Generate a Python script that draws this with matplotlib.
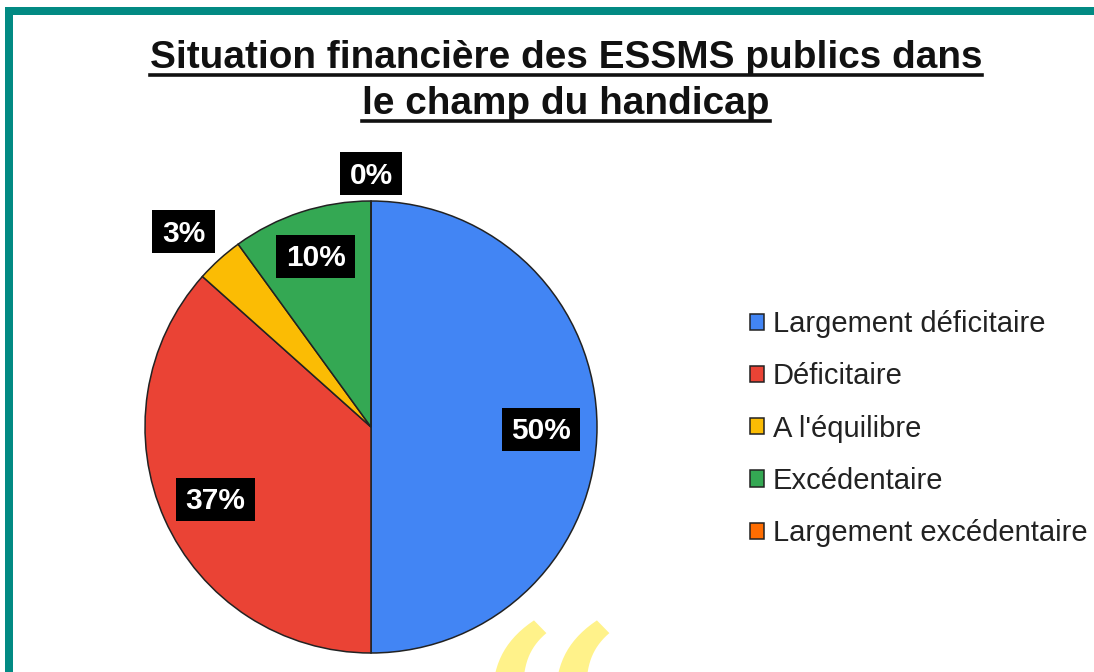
# Pie chart of the financial situation of public ESSMS

import matplotlib
matplotlib.use('Agg')
import matplotlib.pyplot as plt
from matplotlib.lines import Line2D
from matplotlib.patches import Rectangle

categories = ['Largement déficitaire', 'Déficitaire', "A l'équilibre", 'Excédentaire', 'Largement excédentaire']
values = [50, 36.6, 3.4, 10, 0]
colors = ['#4285F4', '#EA4335', '#FBBC04', '#34A853', '#FF6D01']
title_lines = ['Situation financière des ESSMS publics dans', 'le champ du handicap']

W, H = 1094, 672
TEAL = '#028A83'

plt.rcParams['font.family'] = ['Liberation Sans', 'DejaVu Sans']

def px(x, y):
    # pixel position from the top left -> figure fraction
    return x / W, 1 - y / H

fig = plt.figure(figsize=(W / 100, H / 100), dpi=100, facecolor='white')

# Teal frame, open at the bottom and on the right
fig.add_artist(Rectangle(px(5, 672), 8 / W, 665 / H, transform=fig.transFigure, color=TEAL, lw=0))
fig.add_artist(Rectangle(px(5, 15), 1089 / W, 8 / H, transform=fig.transFigure, color=TEAL, lw=0))

# Pie
cx, cy, radius = 371, 427, 226
ax = fig.add_axes([(cx - radius) / W, 1 - (cy + radius) / H, 2 * radius / W, 2 * radius / H])
wedges, _ = ax.pie(values, colors=colors, startangle=90, counterclock=False, radius=1,
                   wedgeprops={'edgecolor': '#222222', 'linewidth': 1.1})
ax.set_xlim(-1, 1)
ax.set_ylim(-1, 1)
for w in wedges:
    w.set_clip_on(False)

# Percent labels on black boxes
fig.canvas.draw()
renderer = fig.canvas.get_renderer()
label_x = [541, 215.5, 183.5, 315.5, 371]
label_y = [429, 499, 232, 256, 173.5]
box_h = 43
for v, lx, ly in zip(values, label_x, label_y):
    x, y = px(lx, ly + 2)
    t = fig.text(x, y, f'{v:.0f}%', color='white', fontsize=21.5, fontweight='bold', ha='center', va='center',
                 zorder=5)
    box_w = t.get_window_extent(renderer).width + 19
    fig.add_artist(Rectangle(px(lx - box_w / 2, ly + box_h / 2), box_w / W, box_h / H,
                             transform=fig.transFigure, color='black', lw=0, zorder=4))

# Title with hand drawn underline
for line, base in zip(title_lines, [68, 114]):
    x, y = px(566, base)
    t = fig.text(x, y, line, fontsize=27.9, fontweight='bold', color='#111111', ha='center', va='baseline')
    bb = t.get_window_extent(renderer)
    fig.add_artist(Line2D([bb.x0 / W, bb.x1 / W], [1 - (base + 7) / H] * 2,
                          transform=fig.transFigure, color='#111111', lw=2.6))

# Legend
fig.legend(wedges, categories, loc='upper left', bbox_to_anchor=px(741, 301.5), frameon=False,
           fontsize=21, handlelength=0.48, handleheight=0.48, handletextpad=0.31,
           labelspacing=0.83, labelcolor='#222222', borderpad=0.3, borderaxespad=0)

# Yellow quote mark cut off by the bottom edge
x, y = px(542, 615)
fig.text(x, y, '“', fontsize=235, color='#FFF28A', family='DejaVu Serif', ha='center', va='top')

fig.savefig('out.png', dpi=100, facecolor='white')
plt.close(fig)
